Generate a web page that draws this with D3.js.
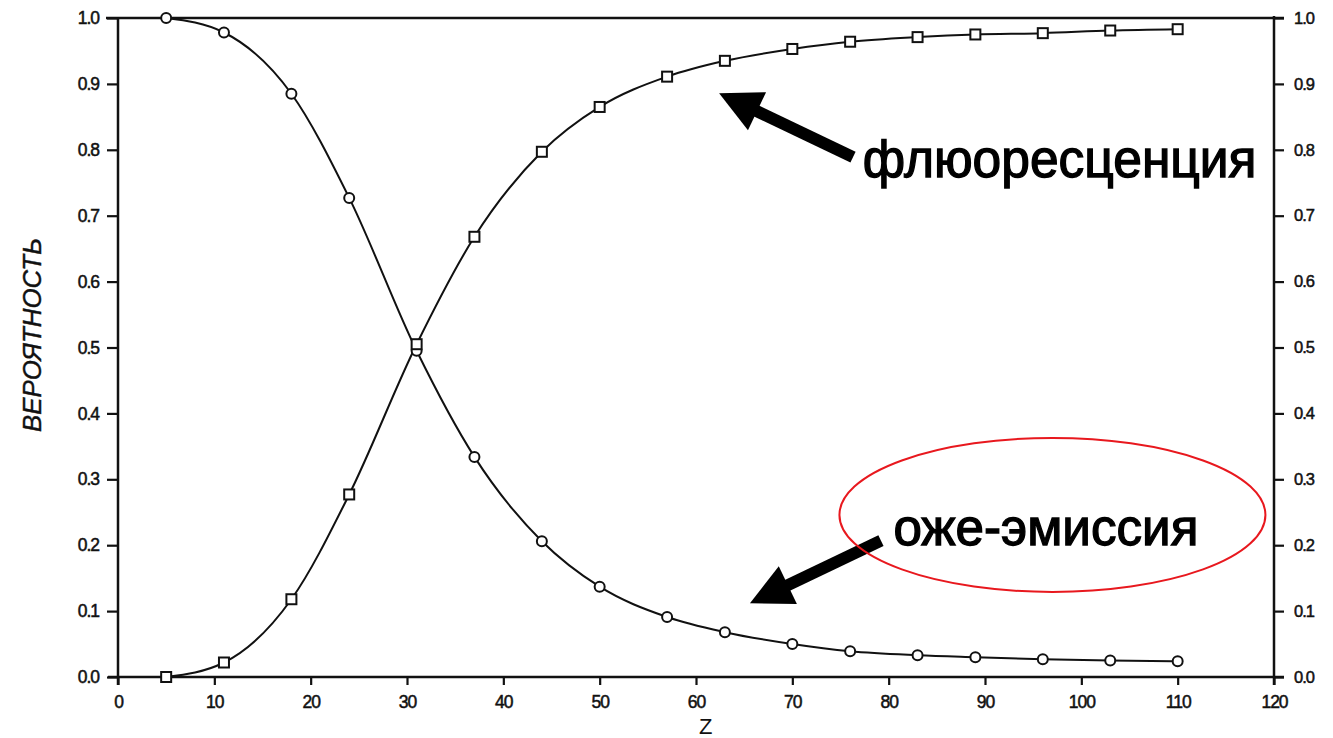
<!DOCTYPE html>
<html>
<head>
<meta charset="utf-8">
<script src="https://cdn.jsdelivr.net/npm/d3@7"></script>
<style>
  html, body { margin: 0; padding: 0; background: #fff; }
  svg { display: block; }
</style>
</head>
<body>
<svg id="chart" width="1333" height="738"></svg>
<script>
// Atomic number Z of the sampled elements
const zValues = [5, 11, 18, 24, 31, 37, 44, 50, 57, 63, 70, 76, 83, 89, 96, 103, 110];
// Auger emission probability (circles)
const augerYield = [1.0, 0.978, 0.885, 0.727, 0.495, 0.334, 0.206, 0.137, 0.091, 0.068, 0.050, 0.039, 0.033, 0.030, 0.027, 0.025, 0.024];
// Fluorescence probability (squares)
const fluorYield = [0.0, 0.022, 0.118, 0.277, 0.505, 0.668, 0.797, 0.865, 0.911, 0.935, 0.953, 0.964, 0.971, 0.975, 0.977, 0.981, 0.983];
const xTickValues = [0, 10, 20, 30, 40, 50, 60, 70, 80, 90, 100, 110, 120];
const yTickValues = [0.0, 0.1, 0.2, 0.3, 0.4, 0.5, 0.6, 0.7, 0.8, 0.9, 1.0];

const svg = d3.select("#chart");
const plotLeft = 118, plotRight = 1274, plotTop = 18, plotBottom = 677;

const x = d3.scaleLinear().domain([0, 120]).range([plotLeft, plotRight]);
const y = d3.scaleLinear().domain([0, 1]).range([plotBottom, plotTop]);

const ink = "#111";
const tickFont = "'Liberation Sans', Arial, sans-serif";

// Frame: top line, bottom axis line, left and right axes
const frame = svg.append("g").attr("stroke", ink).attr("stroke-width", 2.5).attr("fill", "none");
frame.append("line").attr("x1", plotLeft - 12).attr("x2", plotRight + 10).attr("y1", plotTop).attr("y2", plotTop);
frame.append("line").attr("x1", plotLeft - 10).attr("x2", plotRight + 10).attr("y1", plotBottom).attr("y2", plotBottom);
frame.append("line").attr("x1", plotLeft).attr("x2", plotLeft).attr("y1", plotTop).attr("y2", plotBottom + 8);
frame.append("line").attr("x1", plotRight).attr("x2", plotRight).attr("y1", plotTop - 2).attr("y2", plotBottom + 8);

// Left axis
const yLeft = d3.axisLeft(y).tickValues(yTickValues).tickFormat(d3.format(".1f")).tickSize(11).tickPadding(8);
const gl = svg.append("g").attr("transform", `translate(${plotLeft},0)`).call(yLeft);
// Right axis
const yRight = d3.axisRight(y).tickValues(yTickValues).tickFormat(d3.format(".1f")).tickSize(10).tickPadding(10);
const gr = svg.append("g").attr("transform", `translate(${plotRight},0)`).call(yRight);
// Bottom axis
const xAxis = d3.axisBottom(x).tickValues(xTickValues).tickFormat(d3.format("d")).tickSize(8).tickPadding(11);
const gb = svg.append("g").attr("transform", `translate(0,${plotBottom})`).call(xAxis);

[gl, gr, gb].forEach(g => {
  g.select(".domain").remove();
  g.selectAll(".tick line").attr("stroke", ink).attr("stroke-width", 2.2);
  g.selectAll(".tick text").attr("fill", ink).attr("font-family", tickFont)
    .attr("font-size", 17.5).attr("letter-spacing", -1)
    .attr("stroke", ink).attr("stroke-width", 0.5);
});
gr.selectAll(".tick text").attr("font-size", 16.5);

// Axis titles
const yTitle = svg.append("text")
  .attr("transform", `translate(41,335) rotate(-90)`)
  .attr("text-anchor", "middle")
  .attr("font-family", tickFont).attr("font-style", "italic")
  .attr("font-size", 25).attr("fill", ink)
  .attr("stroke", ink).attr("stroke-width", 0.4)
  .text("ВЕРОЯТНОСТЬ");

svg.append("text")
  .attr("x", x(61)).attr("y", 734)
  .attr("text-anchor", "middle")
  .attr("font-family", tickFont).attr("font-size", 22).attr("fill", ink)
  .text("Z");

// Curves
const augerPts = zValues.map((z, i) => [z, augerYield[i]]);
const fluorPts = zValues.map((z, i) => [z, fluorYield[i]]);
const line = d3.line().x(d => x(d[0])).y(d => y(d[1])).curve(d3.curveMonotoneX);

svg.append("path").datum(augerPts).attr("d", line)
  .attr("fill", "none").attr("stroke", ink).attr("stroke-width", 2);
svg.append("path").datum(fluorPts).attr("d", line)
  .attr("fill", "none").attr("stroke", ink).attr("stroke-width", 2);

// Markers
svg.append("g").selectAll("circle").data(augerPts).join("circle")
  .attr("cx", d => x(d[0])).attr("cy", d => y(d[1])).attr("r", 5)
  .attr("fill", "#fff").attr("stroke", ink).attr("stroke-width", 2);
const sq = 10;
svg.append("g").selectAll("rect").data(fluorPts).join("rect")
  .attr("x", d => x(d[0]) - sq / 2).attr("y", d => y(d[1]) - sq / 2)
  .attr("width", sq).attr("height", sq)
  .attr("fill", "#fff").attr("stroke", ink).attr("stroke-width", 2);

// Thick annotation arrows (tail and tip given in data units)
function arrow(tail, tip) {
  const x0 = x(tail[0]), y0 = y(tail[1]), x1 = x(tip[0]), y1 = y(tip[1]);
  const dx = x1 - x0, dy = y1 - y0, len = Math.hypot(dx, dy);
  const ux = dx / len, uy = dy / len, nx = -uy, ny = ux;
  const headLen = 42, headHalf = 21;
  const bx = x1 - ux * headLen, by = y1 - uy * headLen;
  svg.append("line").attr("x1", x0).attr("y1", y0).attr("x2", bx + ux * 4).attr("y2", by + uy * 4)
    .attr("stroke", "#000").attr("stroke-width", 12);
  svg.append("path")
    .attr("d", `M${x1},${y1}L${bx + nx * headHalf},${by + ny * headHalf}L${bx - nx * headHalf},${by - ny * headHalf}Z`)
    .attr("fill", "#000");
}
arrow([76.3, 0.789], [62.4, 0.886]);
arrow([79.2, 0.207], [65.6, 0.112]);

// Labels sized to their span
function fittedLabel(text, xStart, baseline, targetWidth) {
  const t = svg.append("text")
    .attr("x", x(xStart)).attr("y", y(baseline))
    .attr("font-family", tickFont)
    .attr("font-size", 40).attr("fill", "#000")
    .attr("stroke", "#000").attr("stroke-width", 1.3)
    .text(text);
  const w = t.node().getComputedTextLength();
  t.attr("font-size", 40 * targetWidth / w);
  return t;
}
fittedLabel("флюоресценция", 77.3, 0.759, 394);
fittedLabel("оже-эмиссия", 80.5, 0.200, 305);

// Fit the y title to its span
{
  const w = yTitle.node().getComputedTextLength();
  yTitle.attr("font-size", 25 * 194 / w);
}

// Red highlight ellipse around the Auger label
svg.append("ellipse")
  .attr("cx", x(97.0)).attr("cy", y(0.246))
  .attr("rx", 213).attr("ry", 77)
  .attr("fill", "none").attr("stroke", "#e8181e").attr("stroke-width", 2);
</script>
</body>
</html>
